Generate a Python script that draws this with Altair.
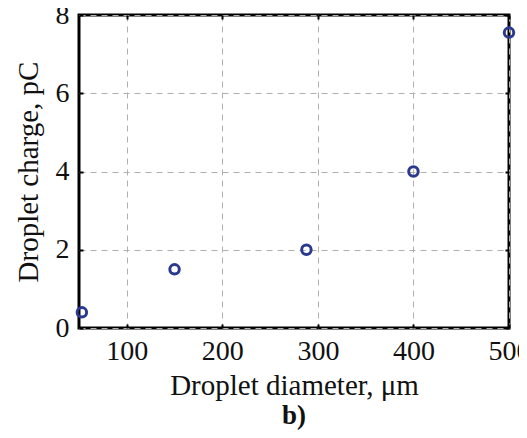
import altair as alt
import pandas as pd

diameter = [53, 150, 288, 400, 500]
charge = [0.4, 1.5, 2.0, 4.0, 7.55]
x_ticks = [100, 200, 300, 400, 500]
y_ticks = [0, 2, 4, 6, 8]

df = pd.DataFrame({"d": diameter, "q": charge})

FONT = "Liberation Serif"
xscale = alt.Scale(domain=[50, 500], nice=False, zero=False)
yscale = alt.Scale(domain=[0, 8], nice=False)
TS = 4

points = alt.Chart(df).mark_point(
    shape="circle", filled=False, color="#2b3a8e", size=90, strokeWidth=3,
    opacity=1, clip=False
).encode(
    x=alt.X("d:Q", scale=xscale,
            axis=alt.Axis(values=x_ticks, orient="bottom", title="Droplet diameter, μm",
                          titleFontWeight="normal", titlePadding=6,
                          labelFlush=False, offset=-TS, ticks=True, tickSize=TS,
                          labelPadding=9)),
    y=alt.Y("q:Q", scale=yscale,
            axis=alt.Axis(values=y_ticks, orient="left", title="Droplet charge, pC",
                          titleFontWeight="normal", titlePadding=12,
                          offset=-TS, ticks=True, tickSize=TS, labelPadding=10)),
)

frame_ticks = alt.Chart(df).mark_point(opacity=0).encode(
    x=alt.X("d:Q", scale=xscale,
            axis=alt.Axis(values=x_ticks, orient="top", labels=False, title=None,
                          grid=False, offset=-TS, ticks=True, tickSize=TS)),
    y=alt.Y("q:Q", scale=yscale,
            axis=alt.Axis(values=y_ticks, orient="right", labels=False, title=None,
                          grid=False, offset=-TS, ticks=True, tickSize=TS)),
)

chart = alt.layer(points, frame_ticks).resolve_axis(
    x="independent", y="independent"
).properties(
    width=430, height=313,
    title=alt.TitleParams("b)", orient="bottom", font=FONT, fontSize=27,
                          fontWeight="bold", color="#111111", offset=3),
    padding={"left": 71, "top": 7, "right": 10, "bottom": 102},
    autosize="none",
).configure_view(
    stroke="black", strokeWidth=3
).configure_axis(
    labelFont=FONT, titleFont=FONT, labelFontSize=28, titleFontSize=29,
    labelColor="#111111", titleColor="#111111",
    grid=True, gridDash=[6, 5], gridColor="#b0b0b0", gridWidth=1,
    domain=False, tickColor="black", tickWidth=2,
)

chart.save("out.html", embed_options={"renderer": "svg", "actions": False})
